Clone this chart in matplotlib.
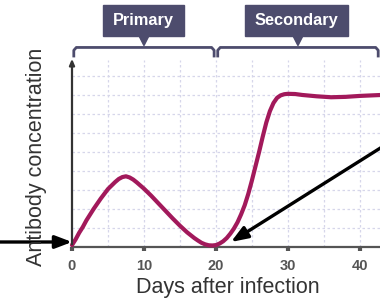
import matplotlib
matplotlib.use("Agg")
import matplotlib.pyplot as plt
from matplotlib.patches import Rectangle, Polygon

# values
days = [0, 0.5, 1, 1.5, 2, 3, 4, 5, 6, 6.5, 7, 7.5, 8, 8.5, 9, 10, 11, 12, 13, 14, 15, 16,
        17, 17.5, 18, 18.5, 19, 19.5, 20, 20.5, 21, 21.5, 22, 22.5, 23, 23.5, 24, 24.5, 25,
        25.5, 26, 26.5, 27, 27.5, 28, 28.5, 29, 29.5, 30, 31, 32, 34, 36, 38, 40, 43]
conc = [0.1, 0.4, 0.75, 1.05, 1.4, 2.0, 2.55, 3.05, 3.42, 3.58, 3.68, 3.72, 3.66, 3.55, 3.4,
        3.07, 2.7, 2.3, 1.9, 1.5, 1.12, 0.77, 0.47, 0.34, 0.22, 0.14, 0.09, 0.08, 0.1, 0.18,
        0.3, 0.47, 0.7, 0.97, 1.3, 1.72, 2.2, 2.8, 3.5, 4.25, 5.0, 5.8, 6.55, 7.15, 7.58, 7.85,
        7.98, 8.04, 8.06, 8.05, 8.0, 7.93, 7.88, 7.9, 7.95, 8.0]
xticks = [0, 10, 20, 30, 40]
phases = ["Primary", "Secondary"]
phase_spans = [(0, 20), (20, 42.8)]
label_pos = [10, 31.4]
box_spans = [(4.3, 15.6), (24.0, 38.4)]

curve_col = "#a2195b"
box_col = "#4d4c6d"
axis_col = "#555555"

plt.rcParams["font.family"] = ["Liberation Sans", "DejaVu Sans"]

fig = plt.figure(figsize=(3.8, 3.0), dpi=100)
ax = fig.add_axes([72 / 380, 53 / 300, 308 / 380, 187 / 300])
ax.set_xlim(0, 42.8)
ax.set_ylim(0, 9.84)

# dashed grid
for gx in range(5, 45, 5):
    ax.axvline(gx, color="#d6d6ea", lw=0.9, ls=(0, (2, 2)), zorder=0)
for gy in range(1, 10):
    ax.axhline(gy, color="#d6d6ea", lw=0.9, ls=(0, (2, 2)), zorder=0)

ax.plot(days, conc, color=curve_col, lw=3, solid_capstyle="round", solid_joinstyle="round",
        zorder=3, clip_on=False)

for s in ["top", "right", "left"]:
    ax.spines[s].set_visible(False)
ax.spines["bottom"].set_color(axis_col)
ax.spines["bottom"].set_linewidth(1.6)
ax.annotate("", xy=(0, 10.05), xytext=(0, 0), xycoords="data",
            arrowprops=dict(arrowstyle="-|>,head_width=0.15,head_length=0.35",
                            color="#333333", lw=1.6), annotation_clip=False)

ax.set_xticks(xticks)
ax.set_yticks([])
ax.tick_params(axis="x", length=3, width=3, color=axis_col, pad=6)
for t in ax.get_xticklabels():
    t.set_fontsize(10.5)
    t.set_fontweight("bold")
    t.set_color(axis_col)

fig.text(0.5 + 38 / 380, 13 / 300, "Days after infection", ha="center", va="center",
         fontsize=15.5, color="#333333")
fig.text(37 / 380, 143 / 300, "Antibody concentration", ha="center", va="center",
         rotation=90, fontsize=15.5, color="#333333")

# brackets and phase labels
by = 10.5
for (a, b), name, lx, (bx0, bx1) in zip(phase_spans, phases, label_pos, box_spans):
    ax.plot([a + 0.25, a + 0.25, a + 0.6, b - 0.6, b - 0.25, b - 0.25],
            [10.05, 10.35, by, by, 10.35, 10.05], color=box_col, lw=2, clip_on=False,
            solid_joinstyle="round")
    ax.add_patch(Rectangle((bx0, 11.1), bx1 - bx0, 1.65, color=box_col, clip_on=False))
    ax.add_patch(Polygon([(lx - 0.7, 11.12), (lx + 0.7, 11.12), (lx, 10.6)], color=box_col,
                         clip_on=False))
    ax.text((bx0 + bx1) / 2, 11.93, name, ha="center", va="center", color="white",
            fontsize=11.8, fontweight="bold")

# pointer arrows
ax.annotate("", xy=(72, 58), xytext=(0, 58), xycoords="figure pixels",
            textcoords="figure pixels",
            arrowprops=dict(arrowstyle="-|>,head_width=0.38,head_length=1.0",
                            color="black", lw=2.4, shrinkA=0, shrinkB=0))
ax.annotate("", xy=(231, 58), xytext=(382, 153), xycoords="figure pixels",
            textcoords="figure pixels",
            arrowprops=dict(arrowstyle="-|>,head_width=0.38,head_length=1.0",
                            color="black", lw=2.4, shrinkA=0, shrinkB=0))

fig.savefig("out.png", dpi=100)
